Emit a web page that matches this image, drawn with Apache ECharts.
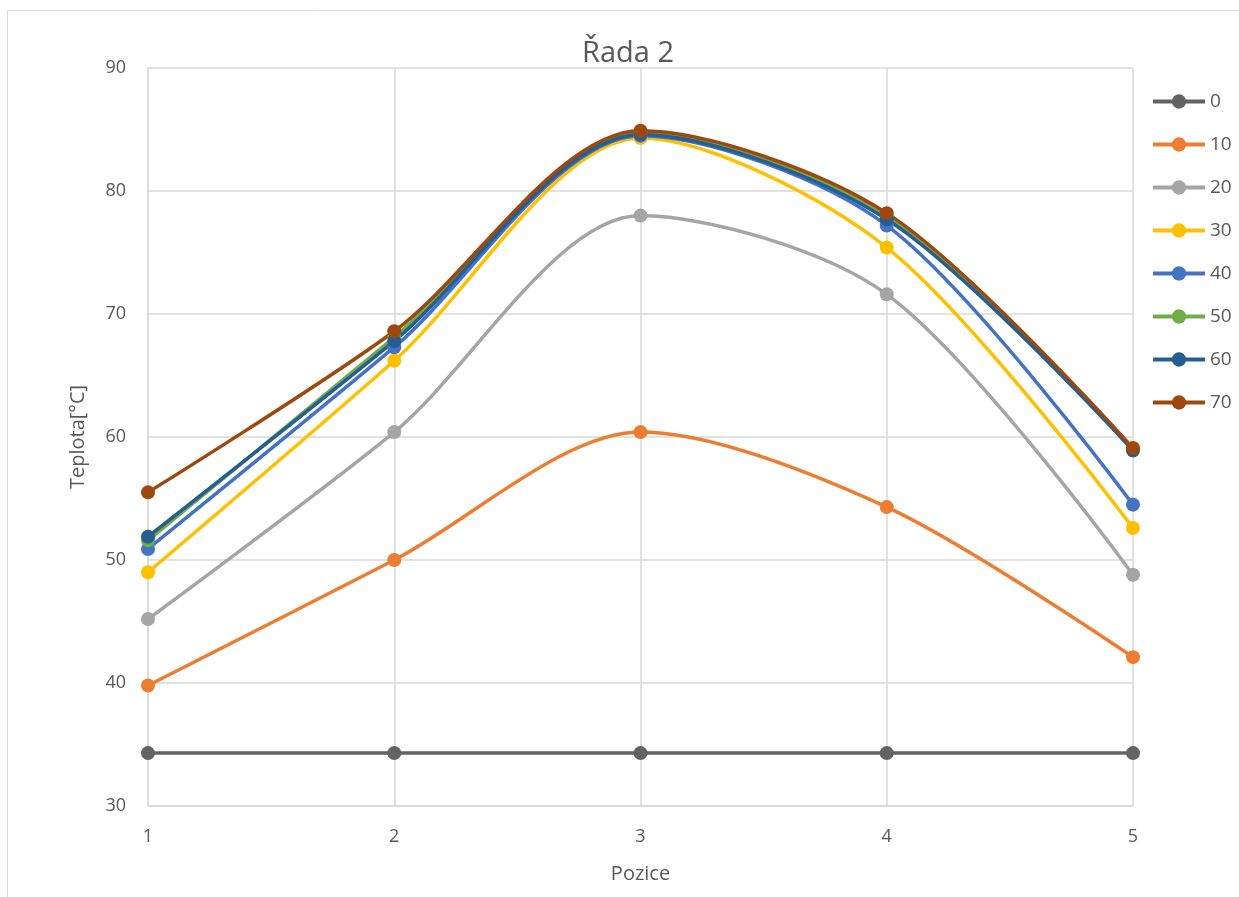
<!DOCTYPE html>
<html style="height: 100%">
<head>
<meta charset="utf-8">
<script src="https://cdn.jsdelivr.net/npm/echarts@6/dist/echarts.min.js"></script>
</head>
<body style="height: 100%; margin: 0; background: #fff">
<div id="container" style="width: 1239px; height: 897px"></div>
<script type="text/javascript">
var positions = ['1', '2', '3', '4', '5'];
var seriesNames = ['0', '10', '20', '30', '40', '50', '60', '70'];
var colors = ['#636363', '#ED7D31', '#A5A5A5', '#FFC000', '#4472C4', '#70AD47', '#255E91', '#9E480E'];

var s0  = [34.3, 34.3, 34.3, 34.3, 34.3];
var s10 = [39.8, 50.0, 60.4, 54.3, 42.1];
var s20 = [45.2, 60.4, 78.0, 71.6, 48.8];
var s30 = [49.0, 66.2, 84.3, 75.4, 52.6];
var s40 = [50.9, 67.3, 84.5, 77.2, 54.5];
var s50 = [51.6, 68.1, 84.7, 77.9, 59.0];
var s60 = [51.9, 67.8, 84.6, 77.7, 58.9];
var s70 = [55.5, 68.6, 84.9, 78.2, 59.1];
var allValues = [s0, s10, s20, s30, s40, s50, s60, s70];

var textColor = '#595959';
var gridColor = '#d9d9d9';
var fontFam = 'Open Sans';

var dom = document.getElementById('container');
var myChart = echarts.init(dom);

var series = seriesNames.map(function (name, i) {
    return {
        name: name,
        type: 'line',
        smooth: 0.3,
        data: allValues[i],
        symbol: 'circle',
        symbolSize: 14,
        lineStyle: { width: 3.5, color: colors[i] },
        itemStyle: { color: colors[i] },
        animation: false
    };
});

var option = {
    backgroundColor: '#fff',
    color: colors,
    textStyle: { fontFamily: fontFam },
    title: {
        text: 'Řada 2',
        left: 623,
        textAlign: 'center',
        top: 34,
        textStyle: { color: textColor, fontSize: 29, fontWeight: 'normal', fontFamily: fontFam }
    },
    graphic: [{
        type: 'rect',
        shape: { x: 7.5, y: 10.5, width: 1260, height: 920 },
        style: { fill: 'none', stroke: gridColor, lineWidth: 1 },
        silent: true
    }],
    legend: {
        orient: 'vertical',
        left: 1146,
        top: 87,
        itemWidth: 52,
        itemHeight: 18,
        itemGap: 24,
        data: seriesNames,
        lineStyle: { width: 4 },
        textStyle: { color: textColor, fontSize: 19, fontFamily: fontFam }
    },
    grid: { left: 148, right: 106, top: 68, bottom: 91 },
    xAxis: {
        type: 'category',
        data: positions,
        boundaryGap: false,
        name: 'Pozice',
        nameLocation: 'middle',
        nameGap: 58,
        nameTextStyle: { color: textColor, fontSize: 20, fontFamily: fontFam },
        axisLine: { lineStyle: { color: gridColor, width: 1.5 } },
        axisTick: { show: false },
        axisLabel: { color: textColor, fontSize: 18, margin: 22, fontFamily: fontFam },
        splitLine: { show: true, lineStyle: { color: gridColor, width: 1.5 } }
    },
    yAxis: {
        type: 'value',
        min: 30,
        max: 90,
        interval: 10,
        name: 'Teplota[°C]',
        nameLocation: 'middle',
        nameGap: 60,
        nameTextStyle: { color: textColor, fontSize: 20, fontFamily: fontFam },
        axisLine: { show: true, lineStyle: { color: gridColor, width: 1.5 } },
        axisTick: { show: false },
        axisLabel: { color: textColor, fontSize: 18, margin: 22, fontFamily: fontFam },
        splitLine: { show: true, lineStyle: { color: gridColor, width: 1.5 } }
    },
    series: series
};

if (option && typeof option === 'object') {
    myChart.setOption(option, true);
}
</script>
</body>
</html>
